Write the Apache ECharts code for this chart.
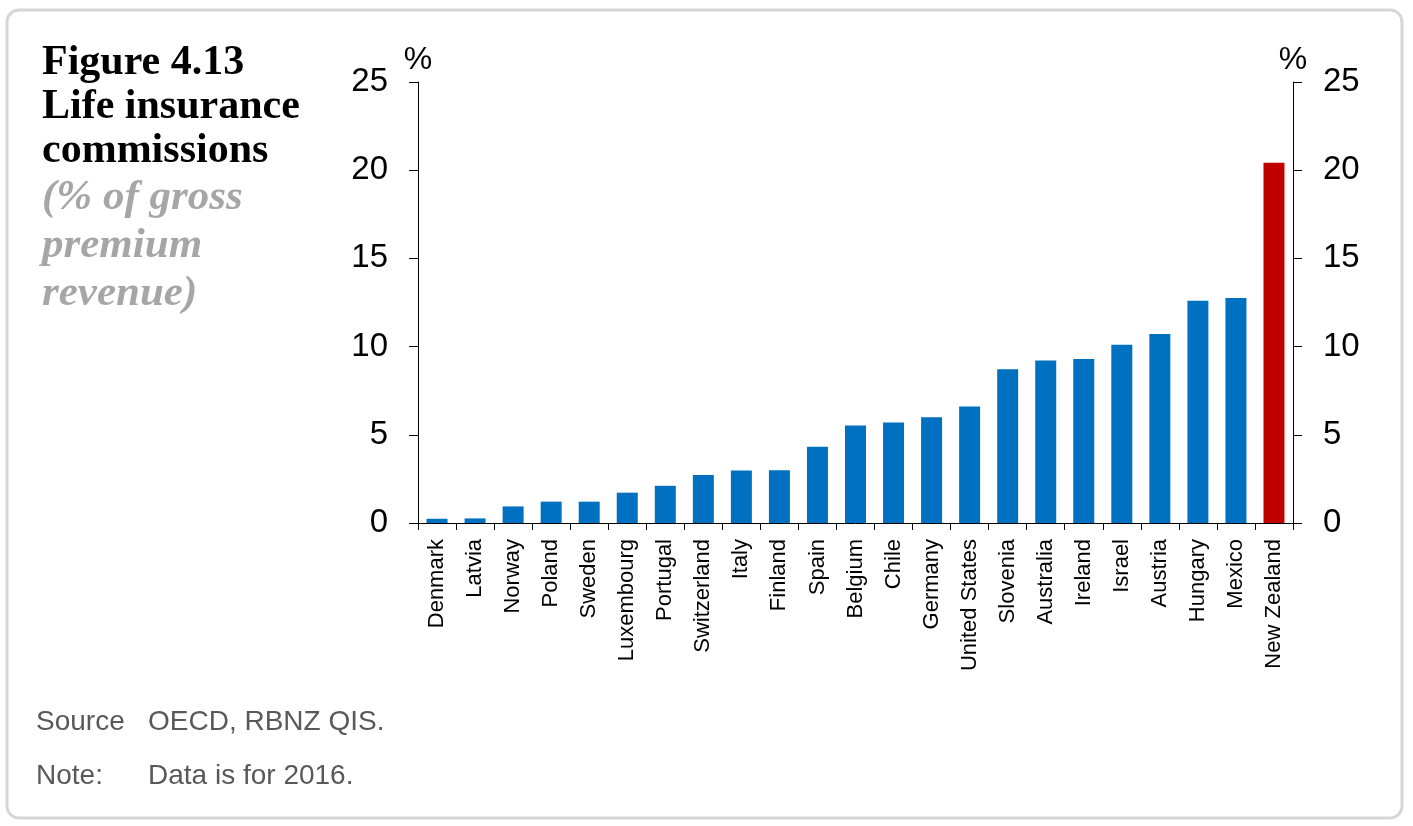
<!DOCTYPE html>
<html>
<head>
<meta charset="utf-8">
<script src="https://cdn.jsdelivr.net/npm/echarts@6/dist/echarts.min.js"></script>
<style>
  html, body { margin: 0; padding: 0; background: #ffffff; }
  #chart { width: 1413px; height: 826px; }
</style>
</head>
<body>
<div id="chart"></div>
<script>
const categories = ['Denmark', 'Latvia', 'Norway', 'Poland', 'Sweden', 'Luxembourg', 'Portugal',
  'Switzerland', 'Italy', 'Finland', 'Spain', 'Belgium', 'Chile', 'Germany', 'United States',
  'Slovenia', 'Australia', 'Ireland', 'Israel', 'Austria', 'Hungary', 'Mexico', 'New Zealand'];
const commissions = [0.24, 0.26, 0.94, 1.21, 1.21, 1.72, 2.11, 2.72, 2.98, 2.99, 4.32, 5.53, 5.70,
  6.0, 6.6, 8.72, 9.21, 9.30, 10.1, 10.72, 12.6, 12.76, 20.42];
const highlighted = 'New Zealand';
const yTicks = { min: 0, max: 25, interval: 5 };
const titleLines = ['Figure 4.13', 'Life insurance', 'commissions'];
const subtitleLines = ['(% of gross', 'premium', 'revenue)'];
const sourceText = 'OECD, RBNZ QIS.';
const noteText = 'Data is for 2016.';

const chart = echarts.init(document.getElementById('chart'), null, { renderer: 'canvas' });

const yAxisBase = {
  type: 'value',
  min: yTicks.min,
  max: yTicks.max,
  interval: yTicks.interval,
  name: '%',
  nameLocation: 'end',
  nameGap: 6,
  nameTextStyle: { fontFamily: 'Liberation Sans', fontSize: 32, color: '#000' },
  splitLine: { show: false },
  axisLine: { show: true, lineStyle: { color: '#000', width: 1 } },
  axisTick: { show: true, length: 9, lineStyle: { color: '#000', width: 1 } },
  axisLabel: { fontFamily: 'Liberation Sans', fontSize: 33, color: '#000', margin: 30 }
};

const option = {
  backgroundColor: '#ffffff',
  animation: false,
  grid: { left: 418, right: 120, top: 82, bottom: 303, containLabel: false },
  title: [
    {
      text: titleLines.join('\n'),
      left: 37, top: 36,
      textStyle: { fontFamily: 'Liberation Serif', fontWeight: 'bold', fontSize: 42, lineHeight: 44, color: '#000' }
    },
    {
      text: subtitleLines.join('\n'),
      left: 37, top: 169,
      textStyle: { fontFamily: 'Liberation Serif', fontWeight: 'bold', fontStyle: 'italic', fontSize: 43, lineHeight: 48, color: '#a6a6a6' }
    }
  ],
  graphic: [
    { type: 'rect', shape: { x: 7, y: 10, width: 1395, height: 808, r: 12 }, style: { fill: 'none', stroke: '#d6d6d6', lineWidth: 3 }, silent: true, z: -1 },
    { type: 'text', left: 36, top: 708, style: { text: 'Source', font: '28px "Liberation Sans"', fill: '#595959' } },
    { type: 'text', left: 148, top: 708, style: { text: sourceText, font: '28px "Liberation Sans"', fill: '#595959' } },
    { type: 'text', left: 36, top: 762, style: { text: 'Note:', font: '28px "Liberation Sans"', fill: '#595959' } },
    { type: 'text', left: 148, top: 762, style: { text: noteText, font: '28px "Liberation Sans"', fill: '#595959' } }
  ],
  xAxis: {
    type: 'category',
    data: categories,
    boundaryGap: true,
    axisLine: { show: true, lineStyle: { color: '#000', width: 1 } },
    axisTick: { show: true, length: 7, alignWithLabel: false, interval: 0, lineStyle: { color: '#000', width: 1 } },
    axisLabel: { rotate: 90, interval: 0, fontFamily: 'Liberation Sans', fontSize: 22, color: '#000', margin: 16 },
    splitLine: { show: false }
  },
  yAxis: [
    Object.assign({}, yAxisBase, { position: 'left' }),
    Object.assign({}, yAxisBase, { position: 'right' })
  ],
  series: [
    {
      type: 'bar',
      yAxisIndex: 0,
      barWidth: 21,
      data: commissions.map((v, i) => ({
        value: v,
        itemStyle: { color: categories[i] === highlighted ? '#C00000' : '#0070C0' }
      }))
    }
  ]
};

chart.setOption(option);
</script>
</body>
</html>
